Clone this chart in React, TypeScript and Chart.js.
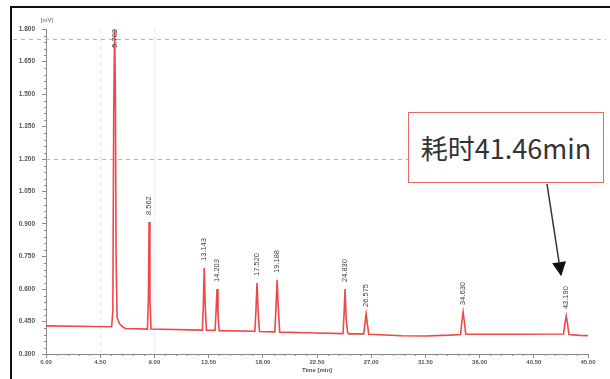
import { useEffect, useRef } from "react";
import { Chart, registerables } from "chart.js";

Chart.register(...registerables);

// ---- data ----
const traceTime = [
  0, 2.5, 5.45, 5.55, 5.62, 5.7, 5.76, 5.82, 5.9, 6.1, 6.35, 6.6,
  8.42, 8.5, 8.56, 8.63, 8.72,
  12.98, 13.06, 13.14, 13.22, 13.32,
  14.04, 14.12, 14.2, 14.28, 14.38,
  17.34, 17.43, 17.52, 17.61, 17.72,
  19.0, 19.1, 19.19, 19.28, 19.4,
  22.5,
  24.66, 24.75, 24.83, 24.92, 25.05, 25.15,
  26.38, 26.48, 26.58, 26.68, 26.8,
  29.5, 31.5, 33.5,
  34.42, 34.53, 34.63, 34.73, 34.85,
  38.5,
  42.97, 43.08, 43.19, 43.3, 43.42,
  44.3, 45,
];
const traceSignal = [
  0.43, 0.428, 0.426, 0.5, 1.4, 1.81, 1.5, 0.75, 0.47, 0.44, 0.425, 0.418,
  0.415, 0.55, 0.909, 0.55, 0.415,
  0.41, 0.52, 0.697, 0.52, 0.41,
  0.409, 0.5, 0.6, 0.48, 0.408,
  0.405, 0.5, 0.628, 0.5, 0.404,
  0.402, 0.52, 0.642, 0.52, 0.401,
  0.397,
  0.394, 0.49, 0.6, 0.46, 0.398, 0.393,
  0.393, 0.44, 0.485, 0.44, 0.391,
  0.384, 0.383, 0.387,
  0.39, 0.45, 0.494, 0.45, 0.391,
  0.391,
  0.392, 0.44, 0.475, 0.44, 0.39,
  0.386, 0.385,
];
const peakTimes = [5.7, 8.56, 13.14, 14.2, 17.52, 19.19, 24.83, 26.58, 34.63, 43.19];
const peakHeights = [1.81, 0.909, 0.697, 0.6, 0.628, 0.642, 0.6, 0.485, 0.494, 0.475];
const peakLabels = ["5.702", "8.562", "13.143", "14.203", "17.520", "19.188", "24.830", "26.575", "34.630", "43.190"];
const xTickValues = [0, 4.5, 9, 13.5, 18, 22.5, 27, 31.5, 36, 40.5, 45];
const xTickLabels = ["0.00", "4.50", "9.00", "13.50", "18.00", "22.50", "27.00", "31.50", "36.00", "40.50", "45.00"];
const yTickValues = [0.3, 0.45, 0.6, 0.75, 0.9, 1.05, 1.2, 1.35, 1.5, 1.65, 1.8];
const yTickLabels = ["0.300", "0.450", "0.600", "0.750", "0.900", "1.050", "1.200", "1.350", "1.500", "1.650", "1.800"];
const guideLevels = [1.755, 1.2];
const guideTimes = [4.5, 9];
const xTitle = "Time [min]";
const yUnit = "[mV]";
const annotationText = "耗时41.46min";

const AXIS = "#8a8a8a";
const TEXT = "#555";

export default function App() {
  const ref = useRef<HTMLCanvasElement | null>(null);

  useEffect(() => {
    if (!ref.current) return;
    const points = traceTime.map((t, i) => ({ x: t, y: traceSignal[i] }));

    const decor = {
      id: "decor",
      beforeDatasetsDraw(chart: any) {
        const { ctx, chartArea, scales } = chart;
        const xs = scales.x;
        const ys = scales.y;
        ctx.save();
        // guide lines
        ctx.setLineDash([4, 4]);
        ctx.lineWidth = 1;
        ctx.strokeStyle = "#b8b8b8";
        guideLevels.forEach((v, i) => {
          const y = Math.round(ys.getPixelForValue(v)) + 0.5;
          ctx.beginPath();
          ctx.moveTo(i === 0 ? 13 : chartArea.left, y);
          ctx.lineTo(606, y);
          ctx.stroke();
        });
        ctx.strokeStyle = "#e4e4e4";
        guideTimes.forEach((t) => {
          const x = Math.round(xs.getPixelForValue(t)) + 0.5;
          ctx.beginPath();
          ctx.moveTo(x, chartArea.top);
          ctx.lineTo(x, chartArea.bottom);
          ctx.stroke();
        });
        ctx.setLineDash([]);
        ctx.restore();
      },
      afterDraw(chart: any) {
        const { ctx, chartArea, scales } = chart;
        const xs = scales.x;
        const ys = scales.y;
        ctx.save();
        // minor ticks
        ctx.strokeStyle = AXIS;
        ctx.lineWidth = 1;
        for (let i = 0; i < xTickValues.length - 1; i++) {
          const a = xTickValues[i];
          const b = xTickValues[i + 1];
          for (let k = 1; k < 5; k++) {
            const x = Math.round(xs.getPixelForValue(a + ((b - a) * k) / 5)) + 0.5;
            ctx.beginPath();
            ctx.moveTo(x, chartArea.bottom);
            ctx.lineTo(x, chartArea.bottom + 2);
            ctx.stroke();
          }
        }
        for (let i = 0; i < yTickValues.length - 1; i++) {
          const a = yTickValues[i];
          const b = yTickValues[i + 1];
          for (let k = 1; k < 5; k++) {
            const y = Math.round(ys.getPixelForValue(a + ((b - a) * k) / 5)) + 0.5;
            ctx.beginPath();
            ctx.moveTo(chartArea.left - 2, y);
            ctx.lineTo(chartArea.left, y);
            ctx.stroke();
          }
        }
        // y unit
        ctx.fillStyle = TEXT;
        ctx.font = "6px 'Liberation Sans', Arial, sans-serif";
        ctx.textAlign = "center";
        ctx.textBaseline = "middle";
        ctx.fillText(yUnit, chartArea.left + 1, chartArea.top - 9);
        // peak labels
        ctx.font = "7.5px 'Liberation Sans', Arial, sans-serif";
        ctx.fillStyle = "#444";
        peakTimes.forEach((t, i) => {
          const px = xs.getPixelForValue(t);
          const py = ys.getPixelForValue(peakHeights[i]);
          const w = ctx.measureText(peakLabels[i]).width;
          let start = py - 7;
          if (start - w < chartArea.top) start = chartArea.top + w;
          ctx.save();
          ctx.translate(px, start);
          ctx.rotate(-Math.PI / 2);
          ctx.textAlign = "left";
          ctx.textBaseline = "middle";
          ctx.fillText(peakLabels[i], 0, 0);
          ctx.restore();
        });
        // arrow to last peak
        const last = peakTimes.length - 1;
        const lx = xs.getPixelForValue(peakTimes[last]);
        const ly = ys.getPixelForValue(peakHeights[last]);
        const lw = ctx.measureText(peakLabels[last]).width;
        const tipX = lx - 5;
        const tipY = ly - 7 - lw - 10;
        const sx = 547;
        const sy = 184;
        const ang = Math.atan2(tipY - sy, tipX - sx);
        const hl = 14;
        const hw = 7;
        const bx = tipX - hl * Math.cos(ang);
        const by = tipY - hl * Math.sin(ang);
        ctx.strokeStyle = "#333";
        ctx.lineWidth = 1.5;
        ctx.beginPath();
        ctx.moveTo(sx, sy);
        ctx.lineTo(bx, by);
        ctx.stroke();
        ctx.fillStyle = "#111";
        ctx.beginPath();
        ctx.moveTo(tipX, tipY);
        ctx.lineTo(bx + hw * Math.sin(ang), by - hw * Math.cos(ang));
        ctx.lineTo(bx - hw * Math.sin(ang), by + hw * Math.cos(ang));
        ctx.closePath();
        ctx.fill();
        ctx.restore();
      },
    };

    const chart = new Chart(ref.current, {
      type: "line",
      data: {
        datasets: [
          {
            data: points,
            borderColor: "#ee4848",
            borderWidth: 1.6,
            pointRadius: 0,
            tension: 0,
            fill: false,
          },
        ],
      },
      options: {
        animation: false,
        responsive: false,
        maintainAspectRatio: false,
        parsing: false as any,
        layout: { padding: { left: 0, right: 22, top: 29, bottom: 0 } },
        plugins: { legend: { display: false }, tooltip: { enabled: false }, title: { display: false } },
        scales: {
          x: {
            type: "linear",
            min: 0,
            max: 45,
            afterBuildTicks: (s: any) => {
              s.ticks = xTickValues.map((v) => ({ value: v }));
            },
            afterFit: (s: any) => {
              s.height = 25;
            },
            ticks: {
              autoSkip: false,
              maxRotation: 0,
              padding: 1,
              color: TEXT,
              font: { size: 6, family: "'Liberation Sans', Arial, sans-serif", weight: "bold" },
              callback: (_v: any, i: number) => xTickLabels[i],
            },
            grid: { display: true, drawOnChartArea: false, drawTicks: true, tickLength: 4, color: AXIS },
            border: { display: true, color: AXIS, width: 1 },
            title: {
              display: true,
              text: xTitle,
              color: TEXT,
              font: { size: 6, family: "'Liberation Sans', Arial, sans-serif", weight: "bold" },
              padding: { top: 0, bottom: 5 },
            },
          },
          y: {
            type: "linear",
            min: 0.3,
            max: 1.8,
            afterBuildTicks: (s: any) => {
              s.ticks = yTickValues.map((v) => ({ value: v }));
            },
            afterFit: (s: any) => {
              s.width = 46;
            },
            ticks: {
              autoSkip: false,
              padding: 7,
              color: TEXT,
              font: { size: 6.5, family: "'Liberation Sans', Arial, sans-serif", weight: "bold" },
              callback: (_v: any, i: number) => yTickLabels[i],
            },
            grid: { display: true, drawOnChartArea: false, drawTicks: true, tickLength: 4, color: AXIS },
            border: { display: true, color: AXIS, width: 1 },
          },
        },
      },
      plugins: [decor],
    } as any);

    return () => chart.destroy();
  }, []);

  return (
    <div style={{ position: "fixed", left: 0, top: 0, width: 610, height: 379, background: "#fff", overflow: "hidden" }}>
      <div
        style={{
          position: "absolute",
          left: 10,
          top: 6,
          width: 620,
          height: 400,
          borderLeft: "2.5px solid #111",
          borderTop: "2.5px solid #111",
          boxSizing: "border-box",
        }}
      />
      <canvas ref={ref} width={610} height={379} style={{ position: "absolute", left: 0, top: 0, width: 610, height: 379 }} />
      <div
        style={{
          position: "absolute",
          left: 408,
          top: 112,
          width: 196,
          height: 71,
          boxSizing: "border-box",
          border: "1.5px solid #e46a6a",
          background: "#fff",
          display: "flex",
          alignItems: "center",
          justifyContent: "center",
          fontFamily: "'Noto Sans CJK SC', 'Noto Sans', sans-serif",
          fontSize: 27,
          color: "#333",
          whiteSpace: "nowrap",
          lineHeight: 1,
        }}
      >
        {annotationText}
      </div>
    </div>
  );
}
